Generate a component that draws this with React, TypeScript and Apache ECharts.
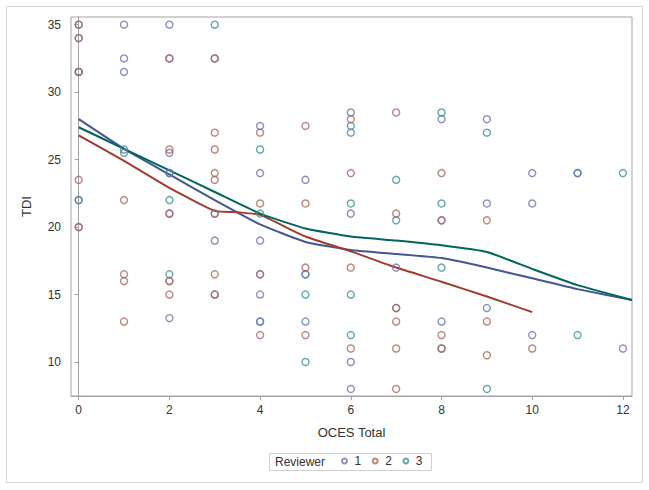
import React, { useEffect, useRef } from "react";
import * as echarts from "echarts";

// Tick labels
const xTicks = [0, 2, 4, 6, 8, 10, 12];
const yTicks = [10, 15, 20, 25, 30, 35];

// Reviewer names
const reviewers = ["1", "2", "3"];

// Scatter points [OCES Total, TDI] per reviewer
const reviewer1Points: number[][] = [
  [0, 35], [0, 34], [0, 31.5], [0, 22], [0, 20],
  [1, 35], [1, 32.5], [1, 31.5], [1, 25.75],
  [2, 35], [2, 32.5], [2, 25.5], [2, 24], [2, 21], [2, 16], [2, 13.25],
  [3, 32.5], [3, 21], [3, 19], [3, 15],
  [4, 27.5], [4, 24], [4, 19], [4, 16.5], [4, 15], [4, 13],
  [5, 23.5], [5, 16.5], [5, 13],
  [6, 28.5], [6, 27], [6, 21], [6, 10], [6, 8],
  [7, 17], [7, 14],
  [8, 28], [8, 20.5], [8, 13], [8, 11],
  [9, 28], [9, 21.75], [9, 14],
  [10, 24], [10, 21.75], [10, 12],
  [11, 24],
  [12, 11],
];
const reviewer2Points: number[][] = [
  [0, 35], [0, 34], [0, 31.5], [0, 23.5], [0, 20],
  [1, 22], [1, 16.5], [1, 16], [1, 13],
  [2, 32.5], [2, 25.75], [2, 21], [2, 16], [2, 15],
  [3, 32.5], [3, 27], [3, 25.75], [3, 24], [3, 23.5], [3, 21], [3, 16.5], [3, 15],
  [4, 27], [4, 21.75], [4, 16.5], [4, 12],
  [5, 27.5], [5, 21.75], [5, 17], [5, 12],
  [6, 28], [6, 24], [6, 17], [6, 11],
  [7, 28.5], [7, 21], [7, 14], [7, 13], [7, 11], [7, 8],
  [8, 24], [8, 20.5], [8, 12], [8, 11],
  [9, 20.5], [9, 13], [9, 10.5],
  [10, 11],
];
const reviewer3Points: number[][] = [
  [0, 31.5], [0, 22],
  [1, 25.5],
  [2, 22], [2, 16.5], [2, 24],
  [3, 35],
  [4, 25.75], [4, 21], [4, 13],
  [5, 16.5], [5, 15], [5, 10],
  [6, 27.5], [6, 21.75], [6, 15], [6, 12],
  [7, 23.5], [7, 20.5],
  [8, 28.5], [8, 21.75], [8, 17],
  [9, 27], [9, 8],
  [11, 24], [11, 12],
  [12, 24],
];

// Fitted curves [OCES Total, TDI] per reviewer
const reviewer1Fit: number[][] = [
  [0, 28.0], [1, 25.8], [2, 23.9], [3, 22.0], [4, 20.2], [5, 18.9],
  [6, 18.3], [7, 18.0], [8, 17.7], [9, 17.0], [10, 16.2], [11, 15.4], [12.2, 14.6],
];
const reviewer2Fit: number[][] = [
  [0, 26.8], [1, 24.9], [2, 22.9], [3, 21.2], [3.5, 21.1], [4, 20.9], [5, 19.3],
  [6, 18.2], [7, 17.0], [8, 15.95], [9, 14.85], [10, 13.7],
];
const reviewer3Fit: number[][] = [
  [0, 27.4], [1, 25.8], [2, 24.2], [3, 22.6], [4, 21.0], [5, 19.9],
  [6, 19.3], [7, 19.0], [8, 18.65], [9, 18.15], [10, 16.9], [11, 15.7], [12.2, 14.6],
];

const markerColors = ["#6b76aa", "#a9695e", "#3a948e"];
const lineColors = ["#445694", "#a23a2e", "#01665e"];
const FONT = "'Liberation Sans', Arial, sans-serif";

export default function App() {
  const ref = useRef<HTMLDivElement>(null);
  useEffect(() => {
    if (!ref.current) return;
    const chart = echarts.init(ref.current, null, { renderer: "svg" });
    const points = [reviewer1Points, reviewer2Points, reviewer3Points];
    const fits = [reviewer1Fit, reviewer2Fit, reviewer3Fit];
    const scatterZ = [4, 5, 3];
    const series: any[] = [];
    fits.forEach((f, i) => {
      series.push({
        name: "fit" + reviewers[i],
        type: "line",
        data: f,
        symbol: "none",
        smooth: 0.15,
        lineStyle: { color: lineColors[i], width: 2 },
        z: 2,
      });
    });
    points.forEach((p, i) => {
      series.push({
        name: reviewers[i],
        type: "scatter",
        data: p,
        symbol: "circle",
        symbolSize: 7,
        itemStyle: { color: "rgba(255,255,255,0)", borderColor: markerColors[i], borderWidth: 1.4 },
        z: scatterZ[i],
      });
    });
    chart.setOption({
      animation: false,
      textStyle: { fontFamily: FONT },
      grid: {
        left: 71,
        top: 17,
        right: 17,
        bottom: 94,
        show: true,
        borderColor: "#a3a3a3",
        borderWidth: 1,
      },
      xAxis: {
        type: "value",
        min: -0.17,
        max: 12.2,
        name: "OCES Total",
        nameLocation: "middle",
        nameGap: 30,
        nameTextStyle: { fontSize: 13, color: "#333", fontFamily: FONT },
        axisLine: { show: true, lineStyle: { color: "#a3a3a3" } },
        axisTick: { show: true, customValues: xTicks, length: 4, lineStyle: { color: "#a3a3a3" } },
        axisLabel: { customValues: xTicks, margin: 8, fontSize: 12, color: "#333", fontFamily: FONT },
        splitLine: { show: false },
      },
      yAxis: {
        type: "value",
        min: 7.48,
        max: 35.57,
        name: "TDI",
        nameLocation: "middle",
        nameGap: 38,
        nameTextStyle: { fontSize: 13, color: "#333", fontFamily: FONT },
        axisLine: { show: true, lineStyle: { color: "#a3a3a3" } },
        axisTick: { show: true, customValues: yTicks, length: 4, lineStyle: { color: "#a3a3a3" } },
        axisLabel: { customValues: yTicks, margin: 10, fontSize: 12, color: "#333", fontFamily: FONT },
        splitLine: { show: false },
      },
      legend: {
        data: reviewers,
        left: 341,
        top: 455,
        padding: 0,
        itemWidth: 10,
        itemHeight: 5,
        itemGap: 10.5,
        textStyle: { fontSize: 12, color: "#333", fontFamily: FONT },
        selectedMode: false,
      },
      graphic: [
        {
          type: "rect",
          shape: { x: 6.5, y: 6.5, width: 636, height: 476 },
          style: { fill: "none", stroke: "#d4d4d4", lineWidth: 1 },
          silent: true,
        },
        {
          type: "rect",
          shape: { x: 269.5, y: 453.5, width: 162, height: 17 },
          style: { fill: "none", stroke: "#cfcfcf", lineWidth: 1 },
          silent: true,
        },
        {
          type: "text",
          x: 275,
          y: 462,
          style: {
            text: "Reviewer",
            fontSize: 12,
            fill: "#333",
            fontFamily: FONT,
            verticalAlign: "middle",
          },
          silent: true,
        },
      ],
      series,
    });
    return () => chart.dispose();
  }, []);
  return (
    <div
      ref={ref}
      style={{ position: "fixed", left: 0, top: 0, width: 649, height: 490, background: "#fff" }}
    />
  );
}
